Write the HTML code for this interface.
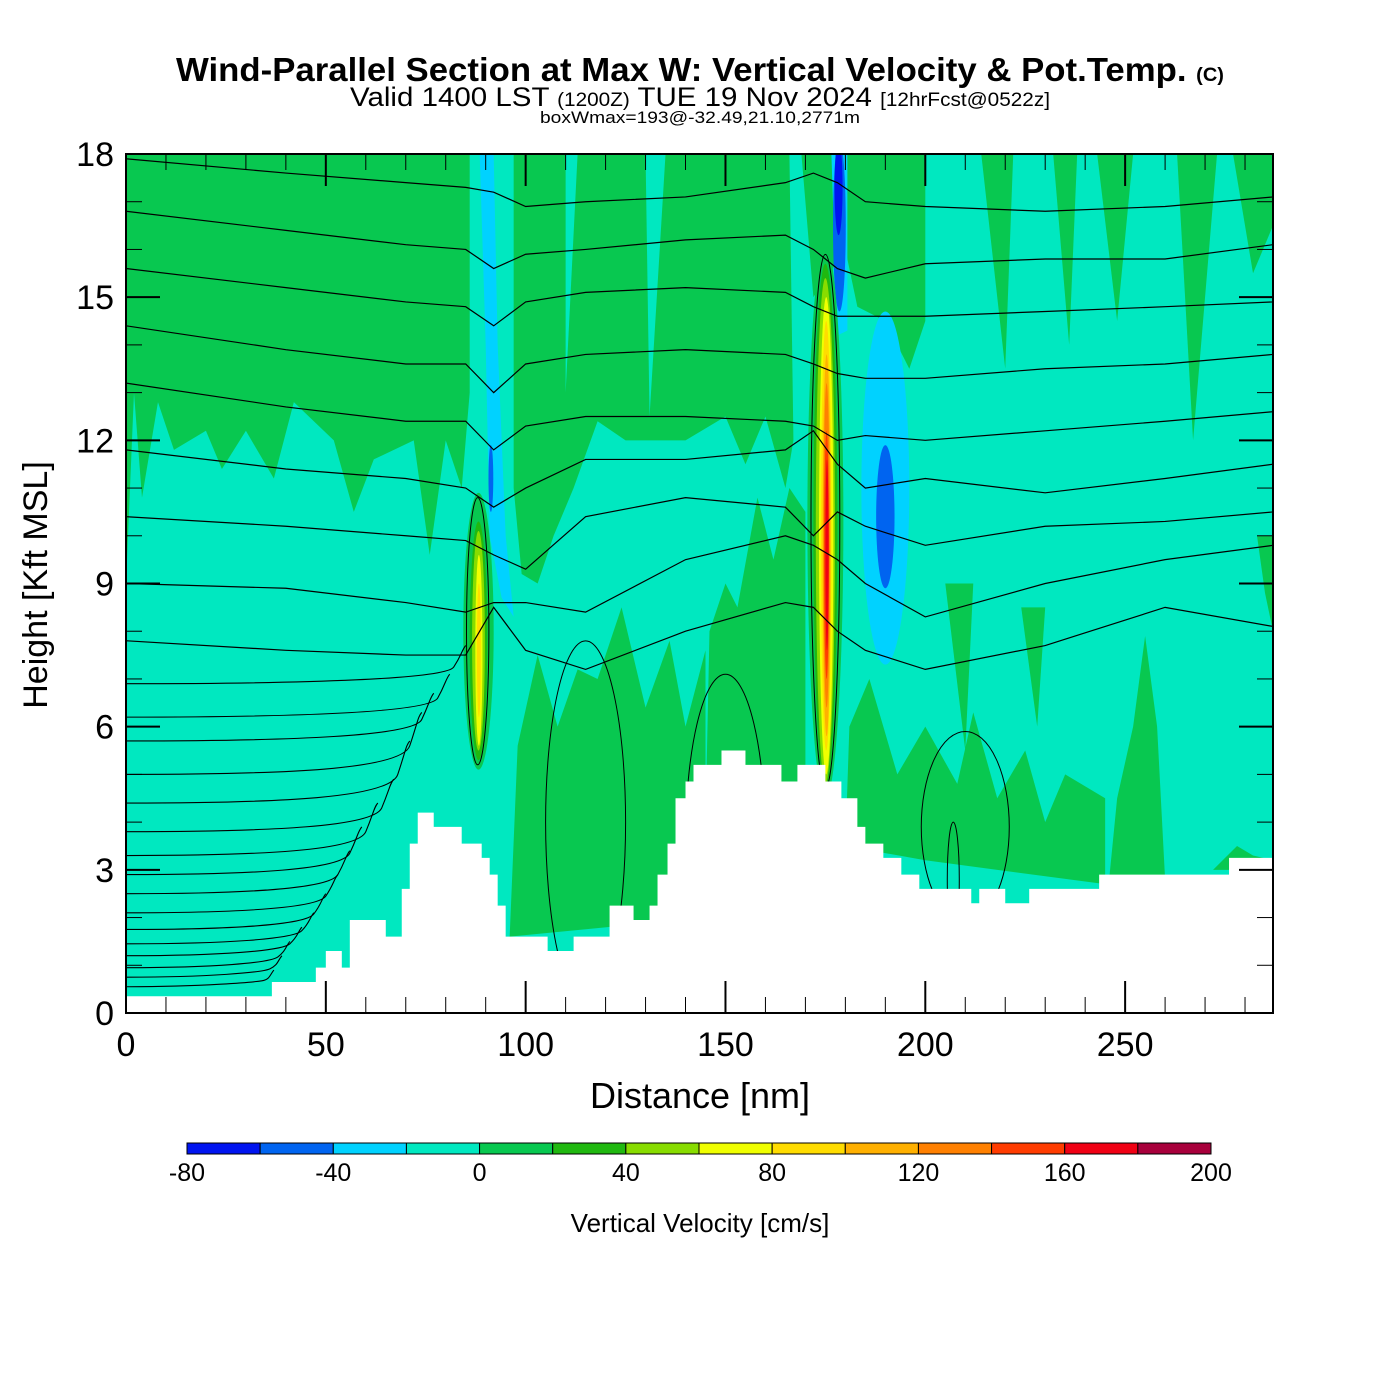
<!DOCTYPE html>
<html><head><meta charset="utf-8"><style>
body{margin:0;background:#fff;width:1400px;height:1400px;overflow:hidden;font-family:"Liberation Sans",sans-serif}
svg{position:absolute;left:0;top:0}
</style></head><body>
<svg id="s" width="1400" height="1400" xmlns="http://www.w3.org/2000/svg">
<text x="176" y="81" textLength="1048" lengthAdjust="spacingAndGlyphs" font-size="33" font-weight="bold">Wind-Parallel Section at Max W: Vertical Velocity &amp; Pot.Temp. <tspan font-size="19">(C)</tspan></text>
<text x="350" y="106" textLength="700" lengthAdjust="spacingAndGlyphs" font-size="27">Valid 1400 LST <tspan font-size="19">(1200Z)</tspan> TUE 19 Nov 2024 <tspan font-size="19">[12hrFcst@0522z]</tspan></text>
<text x="540" y="123" textLength="320" lengthAdjust="spacingAndGlyphs" font-size="17">boxWmax=193@-32.49,21.10,2771m</text>
<defs><clipPath id="cp"><rect x="126" y="154" width="1147" height="859"/></clipPath></defs>
<g id="plot" clip-path="url(#cp)"></g>
<g id="axes"></g>
<text x="700" y="1108" text-anchor="middle" font-size="36">Distance [nm]</text>
<text transform="translate(47,585) rotate(-90)" text-anchor="middle" font-size="34">Height [Kft MSL]</text>
<g id="cbar"></g>
<text x="700" y="1232" text-anchor="middle" font-size="26">Vertical Velocity [cm/s]</text>
</svg>
<script>
const cbColors=["#0014f0","#0064f0","#00d2ff","#00e8c0","#08c850","#20b810","#88dc00","#f0ff00","#ffdc00","#ffb000","#ff8000","#ff3c00","#f00014","#a8003c"];
const cbTicks=[-80,-40,0,40,80,120,160,200];
const xTicks=[0,50,100,150,200,250];
const yTicks=[0,3,6,9,12,15,18];
const terrainX=[0,36.5,36.5,47.5,47.5,50,50,54,54,56,56,65,65,69,69,71,71,73,73,77,77,84,84,89,89,91,91,93,93,95,95,105.5,105.5,112,112,121,121,127,127,131,131,133,133,135.5,135.5,137.5,137.5,140,140,142,142,149,149,155,155,164,164,168,168,175,175,179,179,183,183,185,185,189.5,189.5,194,194,198.5,198.5,211.5,211.5,213.5,213.5,220,220,226,226,243.5,243.5,276,276,287];
const terrainH=[0.35,0.35,0.65,0.65,0.95,0.95,1.3,1.3,0.95,0.95,1.95,1.95,1.6,1.6,2.6,2.6,3.55,3.55,4.2,4.2,3.9,3.9,3.55,3.55,3.25,3.25,2.9,2.9,2.25,2.25,1.6,1.6,1.3,1.3,1.6,1.6,2.25,2.25,1.95,1.95,2.25,2.25,2.9,2.9,3.55,3.55,4.5,4.5,4.85,4.85,5.2,5.2,5.5,5.5,5.2,5.2,4.85,4.85,5.2,5.2,4.85,4.85,4.5,4.5,3.9,3.9,3.55,3.55,3.25,3.25,2.9,2.9,2.6,2.6,2.3,2.3,2.6,2.6,2.3,2.3,2.6,2.6,2.9,2.9,3.25,3.25];
const greenRegions=[
[[0,18],[86,18],[86,13],[84,11],[80,12],[76,9.6],[72,12],[62,11.6],[57,10.5],[52,12],[42,12.8],[37,11.2],[30,12.2],[24,11.4],[20,12.2],[12,11.8],[8,12.8],[4,10.8],[2,13],[0,9]],
[[97,18],[110,18],[110,13],[113,18],[130,18],[131,12.5],[135,18],[166,18],[167,12],[165,11],[160,12.5],[155,11.5],[150,12.5],[140,12],[132,12],[125,12],[118,12.4],[112,11],[107,10],[103,9],[99,9.2],[97,11]],
[[169,18],[200,18],[200,14.5],[196,13.5],[190,14.5],[183,14.8],[180,16],[172,15]],
[[96,1.6],[145,2],[145,7.6],[140,6],[136,7.8],[130,6.4],[124,8.5],[118,7],[113,7.2],[108,6],[103,7.5],[98,5.6]],
[[145,4],[170,4],[170,10.5],[166,11],[162,9.5],[158,10.8],[153,8.5],[150,9],[146,8]],
[[180,3.5],[200,3.2],[245,2.7],[245,4.5],[235,5],[230,4],[225,5.5],[218,4.5],[212,6.3],[208,4.8],[200,6],[193,5],[186,7],[181,6]],
[[246,2.8],[260,2.8],[258,6],[255,7.9],[252,6],[248,4.5]],
[[272,3],[287,3],[287,3.2],[282,3.3],[278,3.5]],
[[214,18],[222,18],[220,13.5]],[[232,18],[238,18],[236,14]],[[243,18],[252,18],[248,14.5]],[[263,18],[273,18],[267,12]],[[277,18],[287,18],[287,16.5],[282,15.5]],[[283,10],[287,10],[287,8],[285,8.8]],
[[205,9],[212,9],[210,5.5]],[[224,8.5],[230,8.5],[228,6]]
];
const cyanRegions=[[[88.5,18],[92,18],[93,14],[95,10],[97,8.3],[94,8.7],[91,10],[90,14]],[[176.5,18],[180.5,18],[180.5,14.3],[178,14.2]]];
const blobs=[
 [190,11,6,3.7,2],[190,10.4,2.3,1.5,1],[91.3,11.2,0.6,0.7,1],[178.5,16.5,1.6,1.8,1],[178.3,17.3,1.0,1.0,0],
 [88.2,8,3.8,2.9,4],[88.2,7.8,2.2,2.5,5],[88.2,7.8,1.6,2.3,6],[88.3,7.6,0.9,2.0,7],[88.3,7.6,0.5,1.4,8],
 [175,10.3,4.5,5.8,4],[175,10.2,3,5.5,5],[175,10.1,2.4,5.3,6],[175.2,10,1.8,5,7],[175.2,10,1.3,4.5,8],[175.3,9.8,1,4,9],[175.3,9.8,0.8,3.4,10],[175.3,9.6,0.6,2.6,11],[175.4,9.6,0.4,2,12]
];
const isoNodes=[0,40,70,85,92,100,115,140,165,172,178,185,200,230,260,287];
const isoLines=[
[17.9,17.6,17.4,17.3,17.2,16.9,17.0,17.1,17.4,17.6,17.4,17.0,16.9,16.8,16.9,17.1],
[16.8,16.4,16.1,16.0,15.6,15.9,16.0,16.2,16.3,16.0,15.6,15.4,15.7,15.8,15.8,16.1],
[15.6,15.2,14.9,14.8,14.4,14.9,15.1,15.2,15.1,14.8,14.6,14.6,14.6,14.7,14.8,14.9],
[14.4,13.9,13.6,13.6,13.0,13.6,13.8,13.9,13.8,13.6,13.4,13.3,13.3,13.5,13.6,13.8],
[13.2,12.7,12.4,12.4,11.8,12.3,12.5,12.5,12.4,12.3,12.0,12.1,12.0,12.2,12.4,12.6],
[11.8,11.4,11.2,11.0,10.6,11.0,11.6,11.6,11.8,12.2,11.5,11.0,11.2,10.9,11.2,11.5],
[10.4,10.2,10.0,9.9,9.6,9.3,10.4,10.8,10.6,10.0,10.5,10.2,9.8,10.2,10.3,10.5],
[9.0,8.9,8.6,8.4,8.6,8.6,8.4,9.5,10.0,9.8,9.5,9.0,8.3,9.0,9.5,9.8],
[7.8,7.6,7.5,7.5,8.5,7.6,7.2,8.0,8.6,8.5,8.0,7.6,7.2,7.7,8.5,8.1]
];
const lowLines=[
 // [start kft, end nm, end kft]
 [6.9,84,7.6],[6.2,80,7.0],[5.7,76,6.6],[5.0,73,6.2],[4.4,70,5.6],[3.8,66,4.8],[3.3,62,4.3],[2.9,58,3.8],[2.5,55,3.3],[2.1,52,2.8],[1.75,49,2.4],[1.45,46,2.0],[1.2,43,1.7],[0.95,40,1.4],[0.75,38,1.1],[0.55,36,0.8]
];
const P=document.getElementById('plot'),A=document.getElementById('axes'),CB=document.getElementById('cbar');
const NS="http://www.w3.org/2000/svg";
const X0=126,X1=1273,Y0=1013,Y1=154,XMAX=287,YMAX=18;
const sx=v=>X0+v*(X1-X0)/XMAX, sy=v=>Y0-v*(Y0-Y1)/YMAX;
function mk(t,at,par){const e=document.createElementNS(NS,t);for(const k in at)e.setAttribute(k,at[k]);(par||P).appendChild(e);return e;}
const bg=mk('rect',{x:X0,y:Y1,width:X1-X0,height:Y0-Y1,fill:cbColors[3]});


greenRegions.forEach(r=>{const e=mk('polygon',{points:r.map(p=>sx(p[0])+','+sy(p[1])).join(' '),fill:cbColors[4]});

});
cyanRegions.forEach(r=>{const e=mk('polygon',{points:r.map(p=>sx(p[0])+','+sy(p[1])).join(' '),fill:cbColors[2]});

});
blobs.forEach(b=>{const e=mk('ellipse',{cx:sx(b[0]),cy:sy(b[1]),rx:b[2]*(X1-X0)/XMAX,ry:b[3]*(Y0-Y1)/YMAX,fill:cbColors[b[4]]});

});
isoLines.forEach(l=>{const e=mk('polyline',{points:l.map((h,i)=>sx(isoNodes[i])+','+sy(h)).join(' '),fill:'none',stroke:'#000','stroke-width':1.2});

});
lowLines.forEach(l=>{const ex=l[1],c1=ex*0.55;const e=mk('path',{d:`M${sx(0)},${sy(l[0])} C${sx(c1)},${sy(l[0])} ${sx(ex-4)},${sy(l[0]+0.1)} ${sx(ex-2)},${sy((l[0]+l[2])/2)} S${sx(ex)},${sy(l[2])} ${sx(ex+1)},${sy(l[2]+0.1)}`,fill:'none',stroke:'#000','stroke-width':1.1});

});
[[88,8,2.8,2.8],[175,10.3,3.6,5.6],[150,3.6,10,3.5],[115,4,10,3.8],[210,3.9,11,2],[207,2.8,1.5,1.2]].forEach(c=>{const e=mk('ellipse',{cx:sx(c[0]),cy:sy(c[1]),rx:c[2]*4,ry:c[3]*47.7,fill:'none',stroke:'#000','stroke-width':1});

});
let tp=`M${sx(0)},${Y0+5}`;terrainX.forEach((x,i)=>tp+=` L${sx(x)},${sy(terrainH[i])}`);tp+=` L${sx(XMAX)},${Y0+5} Z`;
const ter=mk('path',{d:tp,fill:'#fff'});


const fr=mk('rect',{x:X0,y:Y1,width:X1-X0,height:Y0-Y1,fill:'none',stroke:'#000','stroke-width':2},A);


for(let v=0;v<=280;v+=10){const big=v%50===0,L=big?32:16;
mk('line',{x1:sx(v),x2:sx(v),y1:Y0,y2:Y0-L,stroke:'#000','stroke-width':big?2:1},A);
mk('line',{x1:sx(v),x2:sx(v),y1:Y1,y2:Y1+L,stroke:'#000','stroke-width':big?2:1},A);}
for(let v=0;v<=18;v++){const big=v%3===0,L=big?34:16;
mk('line',{x1:X0,x2:X0+L,y1:sy(v),y2:sy(v),stroke:'#000','stroke-width':big?2:1},A);
mk('line',{x1:X1,x2:X1-L,y1:sy(v),y2:sy(v),stroke:'#000','stroke-width':big?2:1},A);}
xTicks.forEach(v=>{const t=mk('text',{x:sx(v),y:1056,'text-anchor':'middle','font-size':34},A);t.textContent=v;

});
yTicks.forEach(v=>{const t=mk('text',{x:114,y:sy(v)+12,'text-anchor':'end','font-size':34},A);t.textContent=v;

});
const cbx0=187,cbx1=1211,seg=(cbx1-cbx0)/cbColors.length;
cbColors.forEach((c,i)=>{const r=mk('rect',{x:cbx0+i*seg,y:1143,width:seg,height:11,fill:c,stroke:'#000','stroke-width':1},CB);

});
cbTicks.forEach(v=>{const t=mk('text',{x:cbx0+(v+80)/280*(cbx1-cbx0),y:1181,'text-anchor':'middle','font-size':25},CB);t.textContent=v;

});
</script>
</body></html>
